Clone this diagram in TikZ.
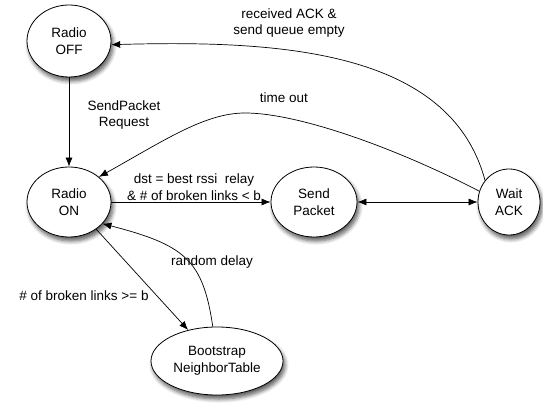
\documentclass[tikz,border=0pt]{standalone}
\usepackage{fontspec}
\setmainfont{Liberation Sans}
\usetikzlibrary{shapes.geometric,arrows.meta,shadows.blur}
\begin{document}
\begin{tikzpicture}[x=1pt,y=-1pt,
  state/.style={ellipse,draw,line width=0.8pt,fill=white,inner sep=0pt,align=center,
    blur shadow={shadow xshift=2pt,shadow yshift=-4pt,shadow blur steps=6,shadow blur radius=4pt,shadow opacity=65}},
  edge/.style={line width=0.7pt,-{Latex[length=9pt,width=7pt]}},
  lbl/.style={align=center,inner sep=0pt},
  every node/.append style={font=\fontsize{13.5}{16.5}\selectfont}]
\useasboundingbox (0,0) rectangle (543,403);
\node[state,minimum width=84pt,minimum height=72pt] (off) at (69,41) {Radio\\OFF};
\node[state,minimum width=84pt,minimum height=70pt] (on) at (69,202) {Radio\\ON};
\node[state,minimum width=86pt,minimum height=70pt] (send) at (314,202) {Send\\Packet};
\node[state,minimum width=62pt,minimum height=66pt] (wait) at (509,202) {Wait\\ACK};
\node[state,minimum width=132pt,minimum height=68pt] (boot) at (217,361) {Bootstrap\\NeighborTable};

\draw[edge] (off) -- (on);
\draw[edge] (wait.138) .. controls (450,50) and (280,40) .. (off.-5);
\coordinate (peak) at (245,113);
\draw[edge] (wait.160) .. controls (400,150) and (300,113) .. (peak)
   .. controls (205,113) and (165,140) .. (on.40);
\draw[edge] (on.east) -- (send.west);
\draw[line width=0.7pt,{Latex[length=9pt,width=7pt]}-{Latex[length=9pt,width=7pt]}] (send.east) -- (wait.west);
\draw[edge] (on.-45) -- (boot.133);
\draw[edge] (boot.97) .. controls (203,260) and (185,245) .. (on.-33);

\node[lbl] (l1) at (289,23) {received ACK \&\\send queue empty};
\node[lbl] (l2) at (284,98) {time out};
\node[lbl] (l3) at (124,115) {SendPacket\\Request};
\node[lbl] (l4) at (194,187) {dst = best rssi~~relay\\\& \# of broken links < b};
\node[lbl] (l5) at (84,296) {\# of broken links >= b};
\node[lbl] (l6) at (212,262) {random delay};
\end{tikzpicture}
\end{document}
